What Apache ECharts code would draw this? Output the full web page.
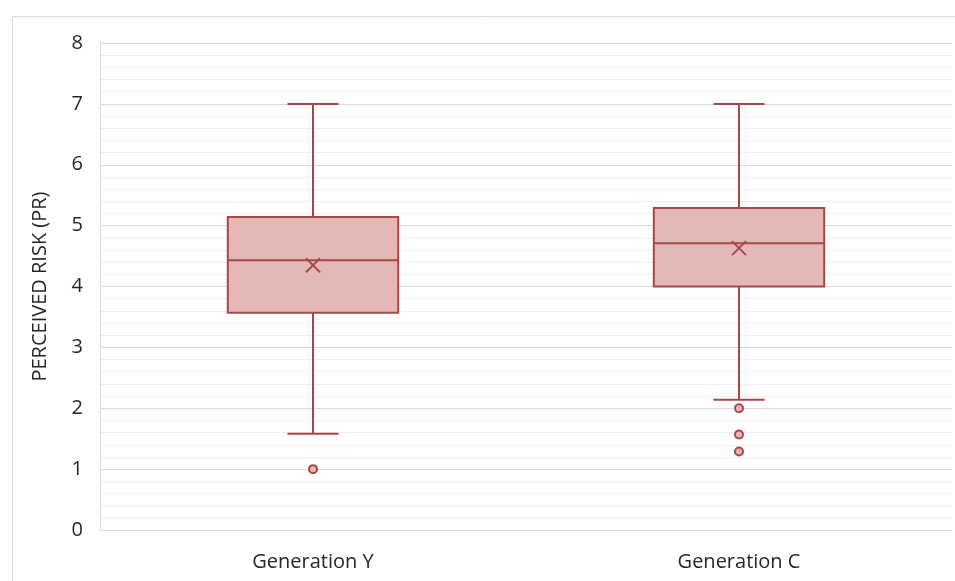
<!DOCTYPE html>
<html>
<head>
<meta charset="utf-8">
<script src="https://cdn.jsdelivr.net/npm/echarts@6/dist/echarts.min.js"></script>
<style>html,body{margin:0;padding:0;background:#fff}#c{width:955px;height:581px}</style>
</head>
<body>
<div id="c"></div>
<script>
const categories = ['Generation Y', 'Generation C'];
const whiskerMin = [1.58, 2.14];
const q1 = [3.57, 4.0];
const median = [4.43, 4.71];
const q3 = [5.14, 5.29];
const whiskerMax = [7.0, 7.0];
const mean = [4.35, 4.63];
const outliersY = [1.0];
const outliersC = [2.0, 1.57, 1.29];
const yTicks = [0, 1, 2, 3, 4, 5, 6, 7, 8];

const STROKE = '#a8474a';
const FILL = '#e5b8b8';
const TEXT = '#262626';

const boxData = categories.map((c, i) => [i, whiskerMin[i], q1[i], median[i], q3[i], whiskerMax[i], mean[i]]);
const outlierData = [];
outliersY.forEach(v => outlierData.push([0, v]));
outliersC.forEach(v => outlierData.push([1, v]));

const chart = echarts.init(document.getElementById('c'), null, {renderer: 'canvas'});
chart.setOption({
  animation: false,
  graphic: [{
    type: 'rect', left: 10, top: 14, z: -10,
    shape: {width: 1000, height: 700},
    style: {fill: 'none', stroke: '#d9d9d9', lineWidth: 1}
  }],
  grid: {left: 100, right: 3, top: 43, bottom: 51, containLabel: false},
  xAxis: {
    type: 'category', data: categories,
    axisLine: {show: true, lineStyle: {color: '#d9d9d9'}},
    axisTick: {show: false},
    axisLabel: {color: TEXT, fontSize: 20, fontFamily: 'Open Sans', margin: 22},
    splitLine: {show: false}
  },
  yAxis: {
    type: 'value', min: yTicks[0], max: yTicks[yTicks.length - 1], interval: 1,
    name: 'PERCEIVED RISK (PR)', nameLocation: 'middle', nameGap: 50, nameRotate: 90,
    nameTextStyle: {color: TEXT, fontSize: 20, fontFamily: 'Open Sans'},
    axisLine: {show: true, lineStyle: {color: '#d9d9d9'}},
    axisTick: {show: false},
    axisLabel: {color: TEXT, fontSize: 20, fontFamily: 'Open Sans', margin: 17},
    splitLine: {show: true, lineStyle: {color: '#d9d9d9', width: 1}},
    minorTick: {show: false, splitNumber: 5},
    minorSplitLine: {show: true, lineStyle: {color: '#efefef', width: 1}}
  },
  series: [{
    type: 'custom',
    data: boxData,
    encode: {x: 0, y: [1, 2, 3, 4, 5, 6]},
    renderItem: function (params, api) {
      const idx = api.value(0);
      const band = api.size([1, 0])[0];
      const halfBox = band * 0.2;
      const halfCap = band * 0.06;
      const pMin = api.coord([idx, api.value(1)]);
      const pQ1 = api.coord([idx, api.value(2)]);
      const pMed = api.coord([idx, api.value(3)]);
      const pQ3 = api.coord([idx, api.value(4)]);
      const pMax = api.coord([idx, api.value(5)]);
      const pMean = api.coord([idx, api.value(6)]);
      const cx = pMed[0];
      const ls = {stroke: STROKE, lineWidth: 2};
      const m = 7;
      return {
        type: 'group',
        children: [
          {type: 'line', shape: {x1: cx, y1: pMax[1], x2: cx, y2: pQ3[1]}, style: ls},
          {type: 'line', shape: {x1: cx, y1: pQ1[1], x2: cx, y2: pMin[1]}, style: ls},
          {type: 'line', shape: {x1: cx - halfCap, y1: pMax[1], x2: cx + halfCap, y2: pMax[1]}, style: ls},
          {type: 'line', shape: {x1: cx - halfCap, y1: pMin[1], x2: cx + halfCap, y2: pMin[1]}, style: ls},
          {type: 'rect', shape: {x: cx - halfBox, y: pQ3[1], width: halfBox * 2, height: pQ1[1] - pQ3[1]},
            style: {fill: FILL, stroke: STROKE, lineWidth: 2}},
          {type: 'line', shape: {x1: cx - halfBox, y1: pMed[1], x2: cx + halfBox, y2: pMed[1]}, style: ls},
          {type: 'line', shape: {x1: cx - m, y1: pMean[1] - m, x2: cx + m, y2: pMean[1] + m}, style: ls},
          {type: 'line', shape: {x1: cx - m, y1: pMean[1] + m, x2: cx + m, y2: pMean[1] - m}, style: ls}
        ]
      };
    }
  }, {
    type: 'scatter',
    data: outlierData,
    symbol: 'circle',
    symbolSize: 8,
    itemStyle: {color: FILL, borderColor: STROKE, borderWidth: 2, opacity: 1}
  }]
});
</script>
</body>
</html>
